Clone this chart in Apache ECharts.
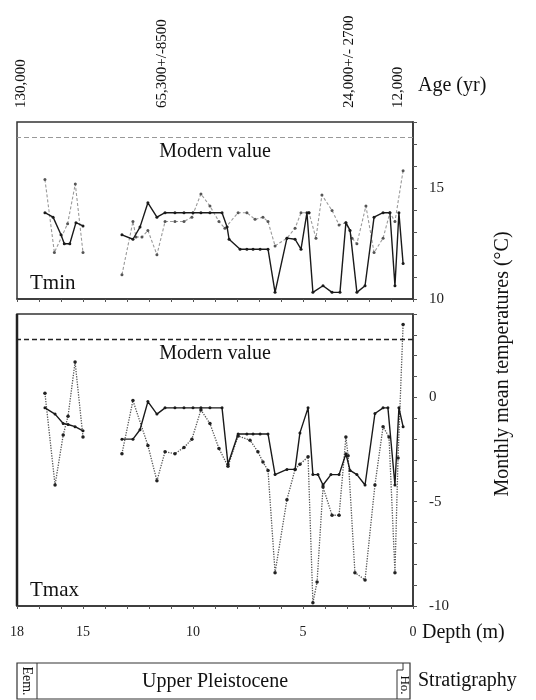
<!DOCTYPE html>
<html><head><meta charset="utf-8">
<script src="https://cdn.jsdelivr.net/npm/echarts@6/dist/echarts.min.js"></script>
<style>html,body{margin:0;padding:0;background:#fff}#c{width:536px;height:700px}</style>
</head><body><div id="c"></div>
<script>
// ---- tick labels ----
const depthLabels = [18, 15, 10, 5, 0];
const tminLabels = [10, 15];
const tmaxLabels = [0, -5, -10];
const modernTmin = 17.3;
const modernTmax = 2.8;
const ageDepths = [17.8, 11.4, 2.9, 0.7];
const ageTexts = ['130,000', '65,300+/-8500', '24,000+/- 2700', '12,000'];

// ---- Tmin (top panel) ----
const tminSolidDepth = [16.73,16.36,16.0,15.85,15.6,15.32,15.0, 14.0,
  13.23,12.73,12.41,12.05,11.64,11.27,10.82,10.41,10.0,9.64,9.23,8.68,8.45,8.36,7.86,7.55,7.27,6.95,6.59,
  6.27,5.73,5.36,5.09,4.82,4.73,4.55,4.09,3.68,3.32,3.05,2.86,2.55,2.18,1.77,1.36,1.05,0.82,0.64,0.45];
const tminSolidTemp = [13.9,13.7,12.9,12.5,12.5,13.45,13.3, null,
  12.9,12.7,13.25,14.35,13.7,13.9,13.9,13.9,13.9,13.9,13.9,13.9,13.25,12.7,12.25,12.25,12.25,12.25,12.25,
  10.3,12.75,12.7,12.25,13.9,13.9,10.3,10.6,10.3,10.3,13.45,13.1,10.3,10.6,13.7,13.9,13.9,10.6,13.9,11.6];
const tminDashDepth = [16.73,16.3,15.7,15.35,15.0, 14.0,
  13.23,12.73,12.59,12.32,12.05,11.64,11.27,10.82,10.41,10.05,9.64,9.23,8.82,8.55,7.95,7.55,7.18,6.82,6.59,
  6.27,5.73,5.36,5.09,4.73,4.41,4.14,3.68,3.36,3.05,2.77,2.55,2.14,1.77,1.36,1.05,0.82,0.45];
const tminDashTemp = [15.4,12.1,13.4,15.2,12.1, null,
  11.1,13.5,12.8,12.8,13.1,12.0,13.5,13.5,13.5,13.7,14.75,14.2,13.5,13.2,13.9,13.9,13.6,13.7,13.5,
  12.4,12.75,13.2,13.9,13.9,12.75,14.7,14.0,13.35,13.45,12.75,12.5,14.2,12.1,12.75,13.9,13.5,15.8];

// ---- Tmax (bottom panel) ----
const tmaxSolidDepth = [16.73,16.27,15.9,15.68,15.36,15.0, 14.0,
  13.23,12.73,12.41,12.05,11.64,11.27,10.82,10.41,10.0,9.64,9.23,8.68,8.41,7.95,7.55,7.27,6.95,6.59,
  6.27,5.73,5.36,5.14,4.77,4.55,4.32,4.09,3.73,3.36,3.05,2.86,2.55,2.18,1.73,1.36,1.14,0.82,0.64,0.45];
const tmaxSolidTemp = [-0.5,-0.8,-1.25,-1.3,-1.4,-1.6, null,
  -2.0,-2.0,-1.55,-0.2,-0.8,-0.5,-0.5,-0.5,-0.5,-0.5,-0.5,-0.5,-3.2,-1.75,-1.75,-1.75,-1.75,-1.75,
  -3.7,-3.45,-3.45,-1.7,-0.5,-3.7,-3.7,-4.2,-3.7,-3.7,-2.7,-3.5,-3.7,-4.2,-0.77,-0.5,-0.5,-4.2,-0.5,-1.4];
const tmaxDotDepth = [16.73,16.27,15.9,15.68,15.36,15.0, 14.0,
  13.23,12.73,12.05,11.64,11.27,10.82,10.41,10.05,9.64,9.23,8.82,8.41,7.95,7.41,7.05,6.82,6.59,
  6.27,5.73,5.36,5.14,4.77,4.55,4.36,4.09,3.68,3.36,3.05,2.95,2.64,2.18,1.73,1.36,1.09,0.82,0.68,0.45];
const tmaxDotTemp = [0.2,-4.2,-1.8,-0.9,1.7,-1.9, null,
  -2.7,-0.15,-2.3,-4.0,-2.6,-2.7,-2.4,-2.0,-0.6,-1.25,-2.45,-3.3,-1.85,-2.05,-2.6,-3.1,-3.5,
  -8.4,-4.9,-3.45,-3.2,-2.85,-9.85,-8.85,-4.3,-5.65,-5.65,-1.9,-2.8,-8.4,-8.75,-4.2,-1.4,-1.9,-8.4,-2.9,3.5];

const pairs = (ds, vs) => ds.map((d, i) => [d, vs[i] === null ? '-' : vs[i]]);
const FONT = 'Liberation Serif';

const chart = echarts.init(document.getElementById('c'), null, {renderer: 'canvas'});

function xAxisCfg(gi, showLabels) {
  return {
    type: 'value', gridIndex: gi, min: 0, max: 18, interval: 1, inverse: true,
    axisLine: {show: true, onZero: false, lineStyle: {color: '#333', width: 1.5}},
    axisTick: {show: true, length: 3, lineStyle: {color: '#555'}},
    splitLine: {show: false},
    axisLabel: {
      show: showLabels, margin: 19, color: '#222', fontFamily: FONT, fontSize: 14,
      formatter: v => depthLabels.includes(v) ? String(v) : ''
    }
  };
}
function yAxisCfg(gi, min, max, labels) {
  return {
    type: 'value', gridIndex: gi, min: min, max: max, interval: 1, position: 'right',
    axisLine: {show: true, onZero: false, lineStyle: {color: '#333', width: 1.5}},
    axisTick: {show: true, length: 4, lineStyle: {color: '#555'}},
    splitLine: {show: false},
    axisLabel: {
      margin: 16, color: '#222', fontFamily: FONT, fontSize: 15,
      formatter: v => labels.includes(v) ? String(v) : ''
    }
  };
}

const solidStyle = {
  type: 'line', symbol: 'circle', symbolSize: 3, showSymbol: true,
  lineStyle: {color: '#1a1a1a', width: 1.4, type: 'solid'},
  itemStyle: {color: '#1a1a1a'}, animation: false, z: 3
};

chart.setOption({
  animation: false,
  backgroundColor: '#fff',
  grid: [
    {left: 17, top: 122, width: 396, height: 177, show: true, borderColor: '#333', borderWidth: 1.5},
    {left: 17, top: 314, width: 396, height: 292, show: true, borderColor: '#333', borderWidth: 1.5}
  ],
  xAxis: [xAxisCfg(0, false), xAxisCfg(1, true)],
  yAxis: [yAxisCfg(0, 10, 18, tminLabels), yAxisCfg(1, -10, 4, tmaxLabels)],
  series: [
    Object.assign({}, solidStyle, {name: 'Tmin solid', xAxisIndex: 0, yAxisIndex: 0,
      data: pairs(tminSolidDepth, tminSolidTemp)}),
    {
      name: 'Tmin dashed', type: 'line', xAxisIndex: 0, yAxisIndex: 0, symbol: 'circle', symbolSize: 3,
      lineStyle: {color: '#9a9a9a', width: 1.1, type: [3, 2]}, itemStyle: {color: '#555'},
      data: pairs(tminDashDepth, tminDashTemp), z: 2,
      markLine: {
        silent: true, symbol: 'none',
        lineStyle: {color: '#999', width: 1, type: [5, 3]},
        label: {show: true, position: 'insideMiddleBottom', distance: 4, formatter: 'Modern value',
          color: '#111', fontFamily: FONT, fontSize: 20},
        data: [{yAxis: modernTmin}]
      }
    },
    Object.assign({}, solidStyle, {name: 'Tmax solid', xAxisIndex: 1, yAxisIndex: 1,
      data: pairs(tmaxSolidDepth, tmaxSolidTemp)}),
    {
      name: 'Tmax dotted', type: 'line', xAxisIndex: 1, yAxisIndex: 1, symbol: 'circle', symbolSize: 3.5,
      lineStyle: {color: '#555', width: 1.3, type: 'dotted'}, itemStyle: {color: '#222'},
      data: pairs(tmaxDotDepth, tmaxDotTemp), z: 2,
      markLine: {
        silent: true, symbol: 'none',
        lineStyle: {color: '#222', width: 1.3, type: [5, 3]},
        label: {show: true, position: 'insideMiddleBottom', distance: 5, formatter: 'Modern value',
          color: '#111', fontFamily: FONT, fontSize: 20},
        data: [{yAxis: modernTmax}]
      }
    }
  ]
});

const txt = (x, y, text, size, extra) => Object.assign({
  type: 'text', x: x, y: y, silent: true,
  style: {text: text, fill: '#111', font: size + 'px "' + FONT + '"', align: 'left', verticalAlign: 'middle'}
}, extra || {});

const graphics = [];
ageDepths.forEach((d, i) => {
  const px = chart.convertToPixel({xAxisIndex: 0}, d);
  graphics.push(txt(px, 108, ageTexts[i], 15, {rotation: Math.PI / 2}));
});
graphics.push(txt(418, 86, 'Age (yr)', 20));
graphics.push(txt(30, 283, 'Tmin', 21));
graphics.push(txt(30, 590, 'Tmax', 21));
graphics.push(txt(422, 633, 'Depth (m)', 20));
graphics.push(txt(418, 681, 'Stratigraphy', 20));
const yt = txt(503, 364, 'Monthly mean temperatures (°C)', 20, {rotation: Math.PI / 2});
yt.style.align = 'center';
graphics.push(yt);
// thicker left edge of lower panel
graphics.push({type: 'line', silent: true, shape: {x1: 17, y1: 314, x2: 17, y2: 606},
  style: {stroke: '#222', lineWidth: 2.5}});
// stratigraphy bar
graphics.push({type: 'rect', silent: true, shape: {x: 17, y: 663, width: 393, height: 36},
  style: {fill: 'none', stroke: '#333', lineWidth: 1.2}});
graphics.push({type: 'line', silent: true, shape: {x1: 37, y1: 663, x2: 37, y2: 699},
  style: {stroke: '#333', lineWidth: 1}});
graphics.push({type: 'polyline', silent: true, shape: {points: [[397, 699], [397, 670], [403, 670], [403, 663]]},
  style: {stroke: '#333', lineWidth: 1, fill: 'none'}});
const up = txt(215, 682, 'Upper Pleistocene', 20); up.style.align = 'center';
graphics.push(up);
const eem = txt(27, 681, 'Eem.', 14, {rotation: -Math.PI / 2}); eem.style.align = 'center';
graphics.push(eem);
const ho = txt(404, 685, 'Ho.', 13, {rotation: -Math.PI / 2}); ho.style.align = 'center';
graphics.push(ho);

chart.setOption({graphic: graphics});
</script>
</body></html>
